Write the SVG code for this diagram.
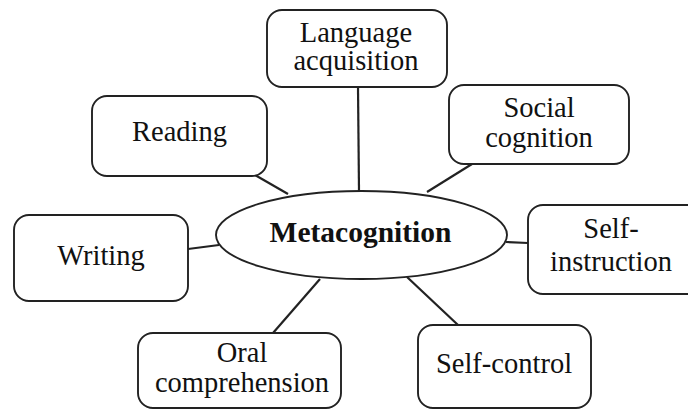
<svg xmlns="http://www.w3.org/2000/svg" width="688" height="410" viewBox="0 0 688 410">
  <style>
    .box { fill: #ffffff; stroke: #222222; stroke-width: 1.9; }
    .hub { fill: #ffffff; stroke: #222222; stroke-width: 1.9; }
    .link { stroke: #222222; stroke-width: 2.2; fill: none; }
    text { font-family: 'Liberation Serif', 'Times New Roman', serif; fill: #111111; text-anchor: middle; }
    .label { font-size: 28.5px; }
    .hub-label { font-size: 29.5px; font-weight: bold; }
  </style>
  <rect width="688" height="410" fill="#ffffff"/>

  <!-- spokes from the central ellipse to each topic -->
  <g id="connectors">
    <line class="link" x1="358" y1="87" x2="359" y2="191"/>
    <line class="link" x1="255" y1="175" x2="288" y2="194"/>
    <line class="link" x1="472" y1="164" x2="427" y2="192"/>
    <line class="link" x1="188" y1="249" x2="219" y2="245"/>
    <line class="link" x1="506" y1="242" x2="528" y2="243"/>
    <line class="link" x1="273" y1="333" x2="320" y2="279"/>
    <line class="link" x1="407" y1="277" x2="458" y2="325"/>
  </g>

  <g id="metacognition">
    <ellipse class="hub" cx="361.5" cy="235" rx="145.5" ry="44"/>
    <text class="hub-label" x="360.5" y="242">Metacognition</text>
  </g>

  <g id="language-acquisition">
    <rect class="box" x="267" y="10" width="180" height="77" rx="15"/>
    <text class="label" x="356" y="42">Language</text>
    <text class="label" x="356" y="70">acquisition</text>
  </g>

  <g id="reading">
    <rect class="box" x="92" y="96" width="175" height="80" rx="15"/>
    <text class="label" x="179.5" y="141">Reading</text>
  </g>

  <g id="social-cognition">
    <rect class="box" x="449" y="85" width="180" height="79" rx="15"/>
    <text class="label" x="539" y="117">Social</text>
    <text class="label" x="539" y="147">cognition</text>
  </g>

  <g id="writing">
    <rect class="box" x="14" y="215" width="174" height="86" rx="15"/>
    <text class="label" x="101" y="265">Writing</text>
  </g>

  <g id="self-instruction">
    <rect class="box" x="528" y="205" width="176" height="89" rx="15"/>
    <text class="label" x="611" y="238">Self-</text>
    <text class="label" x="611" y="271">instruction</text>
  </g>

  <g id="oral-comprehension">
    <rect class="box" x="138" y="333" width="203" height="75" rx="15"/>
    <text class="label" x="242" y="362">Oral</text>
    <text class="label" x="242" y="392">comprehension</text>
  </g>

  <g id="self-control">
    <rect class="box" x="418" y="325" width="173" height="83" rx="15"/>
    <text class="label" x="504" y="373">Self-control</text>
  </g>
</svg>
